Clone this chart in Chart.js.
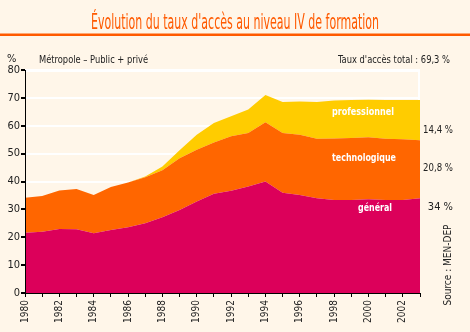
<!DOCTYPE html>
<html>
<head>
<meta charset="utf-8">
<script src="https://cdn.jsdelivr.net/npm/chart.js@4"></script>
<style>
  body { margin: 0; background: #fff6e9; }
  #wrap { position: relative; width: 470px; height: 332px; }
</style>
</head>
<body>
<div id="wrap"><canvas id="c"></canvas></div>
<script>
// données (taux d'accès en %)
const years = ["1980","1981","1982","1983","1984","1985","1986","1987","1988","1989","1990","1991",
  "1992","1993","1994","1995","1996","1997","1998","1999","2000","2001","2002","2003"];
const general = [21.6, 22, 23, 22.9, 21.4, 22.6, 23.6, 25, 27.2, 29.8, 32.8, 35.6,
  36.7, 38.2, 40, 36, 35.2, 34, 33.4, 33.4, 33.6, 33.4, 33.4, 34];
const technologique = [12.6, 12.8, 13.8, 14.4, 13.8, 15.4, 16, 16.5, 16.8, 18.5, 18.6, 18.4,
  19.5, 19.2, 21.3, 21.4, 21.6, 21.3, 22, 22.2, 22.3, 21.9, 21.8, 20.8];
const professionnel = [0, 0, 0, 0, 0, 0, 0, 0.3, 1.4, 2.9, 5.4, 7,
  7.2, 8.4, 9.7, 11.1, 11.9, 13.2, 13.7, 13.6, 13.4, 13.9, 14, 14.4];
const finalLabels = ["14,4 %", "20,8 %", "34 %"];

const BG = "#fff6e9";
const NARROW = '"Liberation Sans Narrow", "Arial Narrow", "DejaVu Sans Condensed", sans-serif';

const decor = {
  id: "decor",
  beforeDraw(chart) {
    const c = chart.ctx;
    c.save();
    c.fillStyle = BG;
    c.fillRect(0, 0, chart.width, chart.height);
    c.restore();
  },
  beforeDatasetsDraw(chart) {
    const a = chart.chartArea, c = chart.ctx;
    c.save();
    c.strokeStyle = "#fff";
    c.lineWidth = 2;
    c.beginPath();
    c.moveTo(a.left, a.top + 1);
    c.lineTo(a.right - 1, a.top + 1);
    c.lineTo(a.right - 1, a.bottom);
    c.stroke();
    c.restore();
  },
  afterDatasetsDraw(chart) {
    const a = chart.chartArea, c = chart.ctx;
    c.save();
    c.strokeStyle = "#000";
    c.lineWidth = 1;
    c.beginPath();
    c.moveTo(a.left + 0.5, a.top);
    c.lineTo(a.left + 0.5, a.bottom + 0.5);
    c.lineTo(a.right, a.bottom + 0.5);
    c.stroke();
    c.restore();
  },
  afterDraw(chart) {
    const c = chart.ctx;
    c.save();
    // titre
    c.fillStyle = "#ff5a00";
    c.font = '21px "DejaVu Sans Condensed", ' + NARROW;
    c.textAlign = "center";
    c.textBaseline = "alphabetic";
    c.fillText("Évolution du taux d'accès au niveau IV de formation", 235, 29, 288);
    c.fillRect(0, 33.5, 470, 2.5);

    c.fillStyle = "#222";
    c.font = "11px " + NARROW;
    c.textAlign = "left";
    c.fillText("%", 7, 62);
    c.fillText("Métropole – Public + privé", 39, 63, 109);
    c.textAlign = "right";
    c.fillText("Taux d'accès total : 69,3 %", 450, 63, 112);

    c.textBaseline = "middle";
    c.fillText(finalLabels[0], 453, 130, 30);
    c.fillText(finalLabels[1], 453, 168, 30);
    c.fillText(finalLabels[2], 453, 207, 30);

    c.save();
    c.translate(448, 265);
    c.rotate(-Math.PI / 2);
    c.textAlign = "center";
    c.font = "10px " + NARROW;
    c.fillText("Source : MEN-DEP", 0, 0, 84);
    c.restore();

    // étiquettes des séries
    c.fillStyle = "#fff";
    c.font = 'bold 11px "DejaVu Sans Condensed", ' + NARROW;
    c.textAlign = "center";
    c.fillText("professionnel", 363, 112, 62);
    c.fillText("technologique", 364, 158, 64);
    c.fillText("général", 375, 208, 34);
    c.restore();
  }
};

new Chart(document.getElementById("c"), {
  type: "line",
  data: {
    labels: years,
    datasets: [
      { label: "général", data: general, backgroundColor: "#dc005a", fill: "origin" },
      { label: "technologique", data: technologique, backgroundColor: "#ff6600", fill: "-1" },
      { label: "professionnel", data: professionnel, backgroundColor: "#ffcc00", fill: "-1" }
    ].map((d) => Object.assign(d, { borderWidth: 0, pointRadius: 0, tension: 0 }))
  },
  options: {
    responsive: true,
    maintainAspectRatio: false,
    animation: false,
    layout: { padding: { top: 70, right: 50, left: 0, bottom: 0 } },
    plugins: { legend: { display: false }, title: { display: false }, tooltip: { enabled: false } },
    scales: {
      x: {
        type: "category",
        offset: false,
        afterFit: (s) => { s.height = 39; },
        grid: { display: true, drawOnChartArea: false, tickLength: 4, tickColor: "#000", offset: false },
        border: { display: false },
        ticks: {
          autoSkip: false,
          maxRotation: 90,
          minRotation: 90,
          padding: 3,
          color: "#222",
          font: { family: NARROW, size: 10 },
          callback: function (v, i) { return i % 2 === 0 ? this.getLabelForValue(v) : ""; }
        }
      },
      y: {
        stacked: true,
        min: 0,
        max: 80,
        afterFit: (s) => { s.width = 25; },
        grid: {
          color: (ctx) => (ctx.tick && ctx.tick.value === 0 ? "rgba(0,0,0,0)" : "#fff"),
          lineWidth: 2,
          tickLength: 4,
          tickColor: "#000"
        },
        border: { display: false },
        ticks: {
          stepSize: 10,
          padding: 1,
          color: "#222",
          font: { family: NARROW, size: 11 }
        }
      }
    }
  },
  plugins: [decor]
});
</script>
</body>
</html>
